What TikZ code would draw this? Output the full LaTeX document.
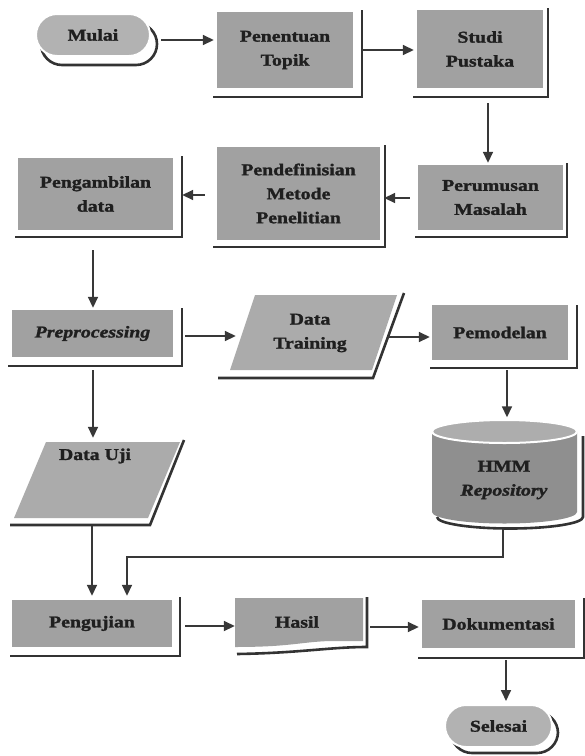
\documentclass[tikz,border=0pt]{standalone}
\usepackage{fontspec}
\setmainfont{Liberation Serif}[FakeStretch=1.2,BoldFeatures={FakeBold=1.5},BoldItalicFeatures={FakeBold=1.5}]
\usetikzlibrary{arrows.meta,calc,shapes.misc}
\definecolor{boxgray}{gray}{0.63}
\definecolor{pillgray}{gray}{0.70}
\definecolor{paragray}{gray}{0.67}
\definecolor{cylbody}{gray}{0.56}
\definecolor{cyltop}{gray}{0.68}
\definecolor{shd}{gray}{0.20}
\definecolor{arrc}{gray}{0.22}
\definecolor{txt}{gray}{0.12}
\begin{document}
\begin{tikzpicture}[x=1pt,y=-1pt,
  lbl/.style={inner sep=0pt, align=center, text=txt, font=\fontsize{16.5}{24}\selectfont\bfseries},
  box/.style={lbl, rectangle, fill=boxgray},
  pill/.style={lbl, rounded rectangle, fill=pillgray, draw=white, line width=2pt},
  area/.style={rectangle, inner sep=0pt},
  shadowline/.style={draw=shd, line width=2.6pt},
  arr/.style={draw=arrc, line width=1.7pt, -{Triangle[length=11pt,width=10pt]}}]
\useasboundingbox (0,0) rectangle (585,756);
\fill[white] (0,0) rectangle (585,756);

% ---------- shadows ----------
\draw[shadowline, rounded corners=21pt] (41,23) rectangle (157,65);
\draw[shadowline, rounded corners=21pt] (451,712) rectangle (558,753);
\draw[shadowline] (213,97) -- (362,97) -- (362,10);
\draw[shadowline] (413,97) -- (548,97) -- (548,8);
\draw[shadowline] (415,237) -- (567,237) -- (567,163);
\draw[shadowline] (213,247) -- (385,247) -- (385,145);
\draw[shadowline] (15,237) -- (182,237) -- (182,156);
\draw[shadowline] (8,366) -- (182,366) -- (182,308);
\draw[shadowline] (430,368) -- (577,368) -- (577,305);
\draw[shadowline] (10,656) -- (180,656) -- (180,597);
\draw[shadowline] (418,658) -- (584,658) -- (584,598);
\draw[shadowline] (218,378) -- (373,378) -- (404,293);
\draw[shadowline] (10,525) -- (150,525) -- (184,440);
\draw[shadowline] (367,597) -- (367,647) .. controls (330,647) and (300,653) .. (237,654);
\draw[shadowline] (583,436) -- (583,517) arc[start angle=0, end angle=180, x radius=73, y radius=11.5];

% ---------- shapes ----------
\node[pill, minimum width=114, minimum height=42] (mulai) at (93,35) {Mulai};
\node[pill, minimum width=107, minimum height=42] (selesai) at (498.5,726) {Selesai};

\node[box, minimum width=136, minimum height=76] (pen) at (285,50) {Penentuan\\Topik};
\node[box, minimum width=126, minimum height=78] (studi) at (480,49) {Studi\\Pustaka};
\node[box, minimum width=145, minimum height=65] (perum) at (490.5,197.5) {Perumusan\\Masalah};
\node[box, minimum width=163, minimum height=93] (pendef) at (298.5,193.5) {Pendefinisian\\Metode\\Penelitian};
\node[box, minimum width=155, minimum height=72] (ambil) at (95.5,194) {Pengambilan\\data};
\node[box, minimum width=161, minimum height=47] (prep) at (92.5,333.5) {\textit{Preprocessing}};
\node[box, minimum width=136, minimum height=55] (model) at (500,332.5) {Pemodelan};
\node[box, minimum width=160, minimum height=47] (uji) at (92,623.5) {Pengujian};
\node[box, minimum width=153, minimum height=48] (dok) at (498.5,624) {Dokumentasi};

% parallelograms
\fill[paragray] (255,295) -- (397,295) -- (372,370) -- (230,370) -- cycle;
\node[area, minimum width=167, minimum height=75] (dtrain) at (313.5,332.5) {};
\node[lbl] (dtrainlbl) at (310,333) {Data\\Training};
\fill[paragray] (46,442) -- (180,442) -- (148,518) -- (14,518) -- cycle;
\node[area, minimum width=168, minimum height=76] (duji) at (96,480) {};
\node[lbl] (dujilbl) at (95,456) {Data Uji};

% cylinder
\fill[cylbody] (432,431.5) -- (432,512) arc[start angle=180, end angle=0, x radius=72.5, y radius=11.5] -- (577,431.5) -- cycle;
\filldraw[fill=cyltop, draw=white, line width=2pt] (504.5,431.5) ellipse[x radius=72.5, y radius=11.5];
\node[area, minimum width=145, minimum height=104] (hmm) at (504.5,471.5) {};
\node[lbl] (hmmlbl) at (504,480) {HMM\\\textit{Repository}};

% document
\fill[boxgray] (235,598) -- (363,598) -- (363,641) -- (330,641) .. controls (300,642) and (290,647) .. (235,647) -- cycle;
\node[area, minimum width=128, minimum height=49] (hasil) at (299,622.5) {};
\node[lbl] (hasillbl) at (297,622) {Hasil};

% ---------- connectors ----------
\draw[arr] ($(mulai.east)+(10,5)$) coordinate (s1) -- ($(pen.west |- s1)+(-3,0)$);
\draw[arr] ($(pen.east)+(9,0)$) coordinate (s2) -- ($(studi.west |- s2)+(-3,0)$);
\draw[arr] ($(studi.south)+(8,15)$) coordinate (s3) -- ($(perum.north -| s3)+(0,-2)$);
\draw[arr] ($(perum.west)+(-8,0.5)$) coordinate (s4) -- ($(pendef.east |- s4)+(4,0)$);
\draw[arr] ($(pendef.west)+(-12,1.5)$) coordinate (s5) -- ($(ambil.east |- s5)+(9,0)$);
\draw[arr] ($(ambil.south)+(-2.5,20)$) coordinate (s6) -- ($(prep.north -| s6)+(0,-2)$);
\draw[arr] ($(prep.east)+(12,2.5)$) coordinate (s7) -- ($(dtrain.west |- s7)+(6,0)$);
\draw[arr] ($(dtrain.east)+(-9,4.5)$) coordinate (s8) -- ($(model.west |- s8)+(-2,0)$);
\draw[arr] ($(model.south)+(7,10)$) coordinate (s9) -- ($(hmm.north -| s9)+(0,-2)$);
\draw[arr] ($(hmm.south)+(-1.5,5)$) -- ++(0,28) -| ($(uji.north)+(35,-4)$);
\draw[arr] ($(prep.south)+(0.5,13)$) coordinate (s11) -- ($(duji.north -| s11)+(0,-4)$);
\draw[arr] ($(duji.south)+(-4,8)$) coordinate (s12) -- ($(uji.north -| s12)+(0,-4)$);
\draw[arr] ($(uji.east)+(13,2.5)$) coordinate (s13) -- (hasil.west |- s13);
\draw[arr] ($(hasil.east)+(7,4.5)$) coordinate (s14) -- ($(dok.west |- s14)+(-3,0)$);
\draw[arr] ($(dok.south)+(7.5,12)$) coordinate (s15) -- ($(selesai.north -| s15)+(0,-3)$);
\end{tikzpicture}
\end{document}
